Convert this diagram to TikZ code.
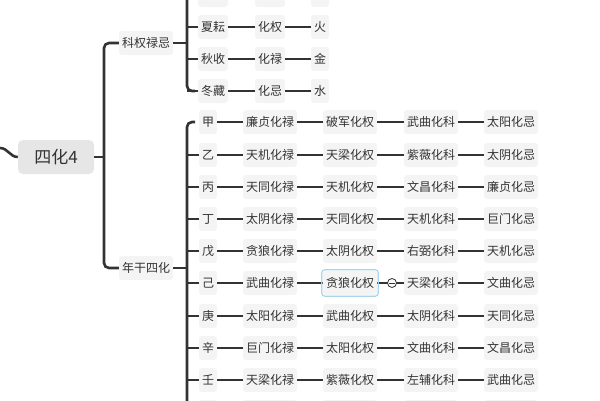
\documentclass[tikz,border=0pt]{standalone}
\usepackage{fontspec}
\setmainfont{Noto Sans CJK SC}
\begin{document}
\begin{tikzpicture}[x=1pt,y=-1pt,
  br/.style={draw=lineC,line width=2.6pt,rounded corners=5pt},
  ln/.style={draw=lineC,line width=2.6pt},
  box/.style={fill=boxC,rounded corners=3pt,inner sep=3pt,font=\fontsize{12}{14}\selectfont,text=textC,minimum height=24pt},
  root/.style={fill=rootC,rounded corners=5pt,minimum width=76pt,minimum height=34pt,font=\fontsize{17}{19}\selectfont,text=textC}]
\definecolor{lineC}{HTML}{333333}
\definecolor{boxC}{HTML}{F4F4F4}
\definecolor{rootC}{HTML}{E6E6E6}
\definecolor{textC}{HTML}{333333}
\definecolor{selC}{HTML}{A8D4EE}
\useasboundingbox (0,0) rectangle (600,400);
\node[root] (root) at (56,157) {四化4};
\coordinate (lin) at (0,148);
\draw[ln] (lin) to[out=0,in=180] (root.west);
\node[box] (g1) at (146,43) {科权禄忌};
\node[box] (g2) at (146,268) {年干四化};
\draw[ln] (root.east) -- (104,157);
\draw[br] (g1.west) -- (104,43) -- (104,268) -- (g2.west);
% group 1
\draw[br] (g1.east) -- (187,43);
\draw[br] (187,-10) -- (187,91) -- (195,91);
\foreach \a/\b/\c/\y/\n in {春生/化科/木/-5/0,夏耘/化权/火/27/1,秋收/化禄/金/59/2,冬藏/化忌/水/91/3}{
  \node[box] (s\n) at (213,\y) {\a};
  \node[box] (h\n) at (270,\y) {\b};
  \node[box] (e\n) at (320,\y) {\c};
  \draw[ln] (s\n) -- (h\n);
  \draw[ln] (h\n) -- (e\n);
  \draw[br] (187,\y) -- (s\n.west);
}
% group 2
\draw[br] (g2.east) -- (187,268);
\draw[br] (195,122) -- (187,122) -- (187,410);
\foreach \s/\a/\b/\c/\d/\y/\n in {
 甲/廉贞化禄/破军化权/武曲化科/太阳化忌/122/1,
 乙/天机化禄/天梁化权/紫薇化科/太阴化忌/155/2,
 丙/天同化禄/天机化权/文昌化科/廉贞化忌/187/3,
 丁/太阴化禄/天同化权/天机化科/巨门化忌/219/4,
 戊/贪狼化禄/太阴化权/右弼化科/天机化忌/251/5,
 己/武曲化禄/贪狼化权/天梁化科/文曲化忌/283/6,
 庚/太阳化禄/武曲化权/太阴化科/天同化忌/316/7,
 辛/巨门化禄/太阳化权/文曲化科/文昌化忌/348/8,
 壬/天梁化禄/紫薇化权/左辅化科/武曲化忌/380/9,
 癸/破军化禄/巨门化权/太阴化科/贪狼化忌/412/10}{
  \node[box] (t\n) at (208,\y) {\s};
  \node[box] (a\n) at (270,\y) {\a};
  \node[box] (b\n) at (350,\y) {\b};
  \node[box] (c\n) at (431,\y) {\c};
  \node[box] (d\n) at (511,\y) {\d};
  \draw[ln] (t\n) -- (a\n);
  \draw[ln] (a\n) -- (b\n);
  \draw[ln] (b\n) -- (c\n);
  \draw[ln] (c\n) -- (d\n);
  \ifnum\n>1 \draw[br] (187,\y) -- (t\n.west);\fi
}
\draw[draw=selC,line width=1.2pt,rounded corners=3pt] ([shift={(-1,-1)}]b6.north west) rectangle ([shift={(1,1)}]b6.south east);
\node[circle,draw=lineC,fill=white,line width=0.8pt,minimum size=9pt,inner sep=0pt] (m6) at (392,283) {};
\draw[lineC,line width=0.8pt] ([xshift=-3pt]m6.center) -- ([xshift=3pt]m6.center);
\end{tikzpicture}
\end{document}
